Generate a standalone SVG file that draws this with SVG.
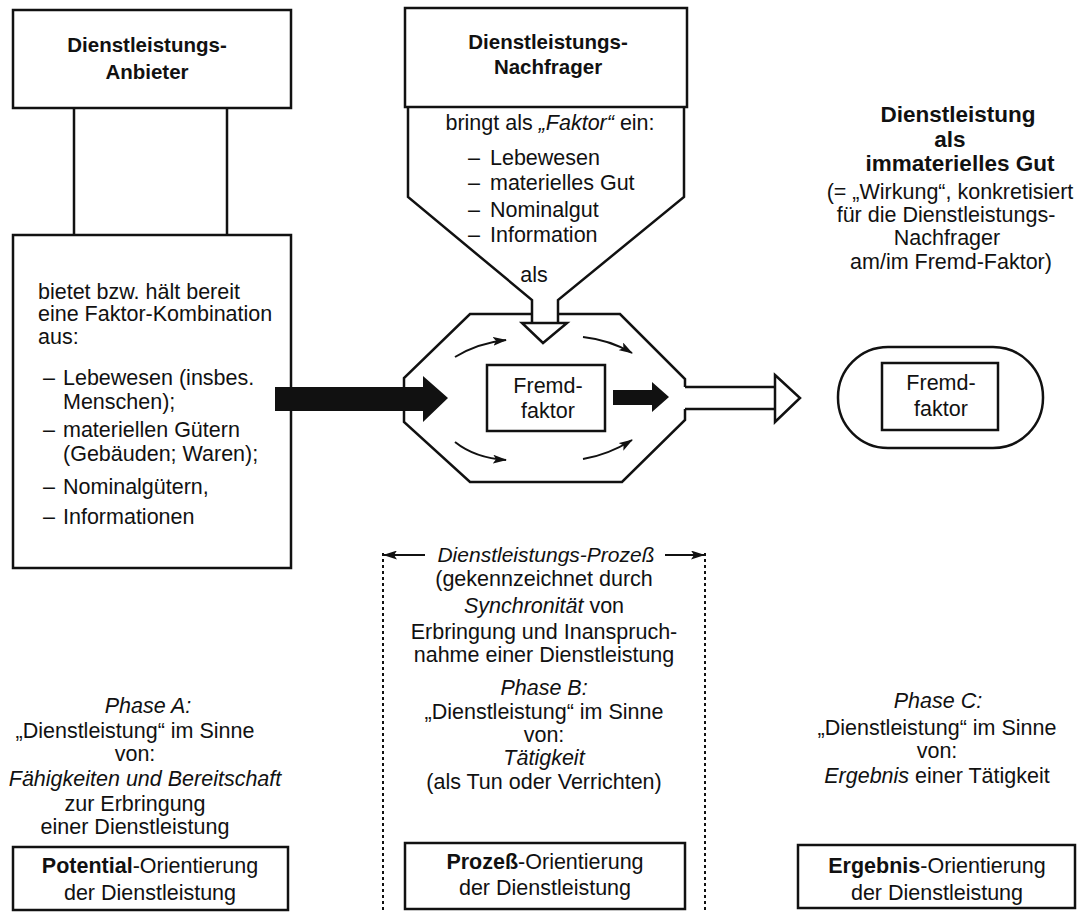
<svg xmlns="http://www.w3.org/2000/svg" width="1082" height="913" viewBox="0 0 1082 913">
<defs>
<style>
.ln{fill:none;stroke:#111;stroke-width:2.5;stroke-linejoin:miter}
.dash{fill:none;stroke:#111;stroke-width:2;stroke-dasharray:3 3}
.t{font-family:"Liberation Sans",Arial,sans-serif;font-size:21.5px;fill:#111}
.c{text-anchor:middle}
.b{font-weight:bold}
.h{font-family:"Liberation Sans",Arial,sans-serif;font-size:20.5px;font-weight:bold;fill:#111;text-anchor:middle}
.hr{font-family:"Liberation Sans",Arial,sans-serif;font-size:22.5px;font-weight:bold;fill:#111;text-anchor:middle}
.i{font-style:italic}
</style>
<marker id="ah" viewBox="0 0 14 9" refX="13" refY="4.5" markerWidth="14" markerHeight="9" markerUnits="userSpaceOnUse" orient="auto">
<path d="M0,0 L14,4.5 L0,9 L3,4.5 z" fill="#111"/>
</marker>
<marker id="ahs" viewBox="0 0 14 9" refX="13" refY="4.5" markerWidth="14" markerHeight="9" markerUnits="userSpaceOnUse" orient="auto">
<path d="M0,0 L14,4.5 L0,9 L3,4.5 z" fill="#111"/>
</marker>
</defs>
<rect width="1082" height="913" fill="#fff"/>

<g id="anbieter">
<rect class="ln" x="13" y="10" width="278" height="98"/>
<text class="h" x="147" y="52">Dienstleistungs-</text>
<text class="h" x="147" y="79">Anbieter</text>
</g>

<g id="faktor-kombination">
<rect class="ln" x="13" y="235" width="278" height="333"/>
<text class="t" x="38" y="299">bietet bzw. hält bereit</text>
<text class="t" x="38" y="321">eine Faktor-Kombination</text>
<text class="t" x="38" y="344">aus:</text>
<text class="t" x="43" y="385">–</text><text class="t" x="63" y="385">Lebewesen (insbes.</text>
<text class="t" x="63" y="409">Menschen);</text>
<text class="t" x="43" y="437">–</text><text class="t" x="63" y="437">materiellen Gütern</text>
<text class="t" x="63" y="461">(Gebäuden; Waren);</text>
<text class="t" x="43" y="494">–</text><text class="t" x="63" y="494">Nominalgütern,</text>
<text class="t" x="43" y="524">–</text><text class="t" x="63" y="524">Informationen</text>
</g>

<g id="nachfrager">
<rect class="ln" x="405" y="8" width="282" height="99"/>
<text class="h" x="548" y="49">Dienstleistungs-</text>
<text class="h" x="548" y="74">Nachfrager</text>
<path class="ln" d="M408,107 L408,197 L532,300 L532,323 M684,107 L684,197 L558,300 L558,323"/>
<text class="t c" x="550" y="130">bringt als <tspan class="i">„Faktor“</tspan> ein:</text>
<text class="t" x="468" y="165">–</text><text class="t" x="490" y="165">Lebewesen</text>
<text class="t" x="468" y="190">–</text><text class="t" x="490" y="190">materielles Gut</text>
<text class="t" x="468" y="217">–</text><text class="t" x="490" y="217">Nominalgut</text>
<text class="t" x="468" y="242">–</text><text class="t" x="490" y="242">Information</text>
<text class="t c" x="534" y="282">als</text>
</g>

<g id="prozess">
<path class="ln" d="M558,314 L620,314 L685,379 L685,387 M685,409 L685,420 L622,482 L470,482 L404,422 L404,378 L470,314 L532,314"/>
<path class="ln" d="M522,323 L567,323 L543,343 Z" fill="#fff"/>
<rect class="ln" x="487" y="365" width="118" height="66"/>
<text class="t c" x="548" y="393">Fremd-</text>
<text class="t c" x="548" y="418">faktor</text>
</g>

<g id="ergebnis-gut">
<text class="hr" x="958" y="122">Dienstleistung</text>
<text class="hr" x="950" y="147">als</text>
<text class="hr" x="960" y="171">immaterielles Gut</text>
<text class="t c" x="950" y="199">(= „Wirkung“, konkretisiert</text>
<text class="t c" x="946" y="222">für die Dienstleistungs-</text>
<text class="t c" x="947" y="245">Nachfrager</text>
<text class="t c" x="951" y="269">am/im Fremd-Faktor)</text>
<rect class="ln" x="838" y="347" width="205" height="101" rx="50" ry="50"/>
<rect class="ln" x="882" y="363" width="116" height="67"/>
<text class="t c" x="941" y="390">Fremd-</text>
<text class="t c" x="941" y="416">faktor</text>
</g>

<g id="connectors">
<path class="ln" d="M74,108 L74,235 M227,108 L227,235"/>
<path d="M275,387 L423,387 L423,376 L448,398 L423,422 L423,411 L275,411 Z" fill="#111"/>
<path d="M613,390 L652,390 L652,382 L669,397 L652,412 L652,405 L613,405 Z" fill="#111"/>
<path class="ln" d="M685,387 L775,387 M685,409 L775,409"/>
<path class="ln" d="M775,375 L800,398 L775,422 Z" fill="#fff"/>
<path class="ln" style="stroke-width:2" d="M455,357 Q478,343 506,340" marker-end="url(#ah)"/>
<path class="ln" style="stroke-width:2" d="M583,337 Q610,340 632,353" marker-end="url(#ah)"/>
<path class="ln" style="stroke-width:2" d="M455,442 Q475,458 506,460" marker-end="url(#ah)"/>
<path class="ln" style="stroke-width:2" d="M583,459 Q608,455 632,440" marker-end="url(#ah)"/>
</g>

<g id="prozess-bereich">
<path class="dash" d="M383,553 L383,913 M705,553 L705,913"/>
<path class="ln" style="stroke-width:2" d="M425,555 L384,555" marker-end="url(#ahs)"/>
<path class="ln" style="stroke-width:2" d="M665,555 L704,555" marker-end="url(#ahs)"/>
<text class="t c i" x="546" y="562" style="font-size:21px">Dienstleistungs-Prozeß</text>
<text class="t c" x="544" y="586">(gekennzeichnet durch</text>
<text class="t c" x="544" y="613"><tspan class="i">Synchronität</tspan> von</text>
<text class="t c" x="544" y="639">Erbringung und Inanspruch-</text>
<text class="t c" x="544" y="662">nahme einer Dienstleistung</text>
<text class="t c i" x="544" y="695">Phase B:</text>
<text class="t c" x="544" y="719">„Dienstleistung“ im Sinne</text>
<text class="t c" x="544" y="742">von:</text>
<text class="t c i" x="544" y="765">Tätigkeit</text>
<text class="t c" x="544" y="789">(als Tun oder Verrichten)</text>
</g>

<g id="phase-a">
<text class="t c i" x="148" y="713">Phase A:</text>
<text class="t c" x="135" y="738">„Dienstleistung“ im Sinne</text>
<text class="t c" x="135" y="761">von:</text>
<text class="t c i" x="145" y="786">Fähigkeiten und Bereitschaft</text>
<text class="t c" x="135" y="811">zur Erbringung</text>
<text class="t c" x="135" y="834">einer Dienstleistung</text>
</g>
<g id="potential-orientierung">
<rect class="ln" x="13" y="847" width="275" height="63"/>
<text class="t c" x="150" y="873"><tspan class="b">Potential</tspan>-Orientierung</text>
<text class="t c" x="150" y="900">der Dienstleistung</text>
</g>

<g id="prozess-orientierung">
<rect class="ln" x="405" y="843" width="280" height="66"/>
<text class="t c" x="545" y="869"><tspan class="b">Prozeß</tspan>-Orientierung</text>
<text class="t c" x="545" y="895">der Dienstleistung</text>
</g>

<g id="phase-c">
<text class="t c i" x="938" y="708">Phase C:</text>
<text class="t c" x="937" y="735">„Dienstleistung“ im Sinne</text>
<text class="t c" x="937" y="758">von:</text>
<text class="t c" x="937" y="783"><tspan class="i">Ergebnis</tspan> einer Tätigkeit</text>
</g>
<g id="ergebnis-orientierung">
<rect class="ln" x="798" y="845" width="277" height="63"/>
<text class="t c" x="937" y="873"><tspan class="b">Ergebnis</tspan>-Orientierung</text>
<text class="t c" x="937" y="900">der Dienstleistung</text>
</g>
</svg>
